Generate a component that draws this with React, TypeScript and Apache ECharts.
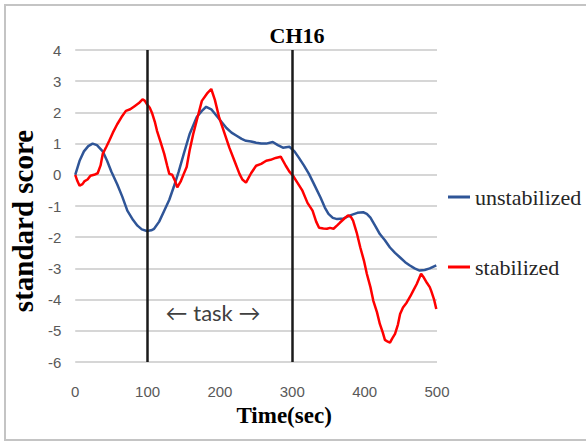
import React, { useEffect, useRef } from "react";
import * as echarts from "echarts";

const titleText = "CH16";
const xAxisName = "Time(sec)";
const yAxisName = "standard score";
const seriesNames = ["unstabilized", "stabilized"];
const markerTimes = [100, 300];
const taskLabel = "\u2190 task \u2192";

const unstabTime = [0, 6, 12, 18, 24, 30, 38, 44, 50, 58, 65, 72, 80, 86, 92, 99, 105, 109, 116, 123, 130, 136, 143, 150, 158, 168, 175, 181, 188, 195, 202, 209, 216, 223, 230, 236, 243, 250, 257, 264, 273, 280, 287, 296, 303, 309, 316, 323, 330, 339, 345, 350, 356, 362, 371, 380, 390, 398, 403, 408, 415, 421, 428, 435, 442, 449, 456, 462, 469, 476, 483, 490, 499];
const unstabValue = [0.0, 0.45, 0.75, 0.92, 1.0, 0.95, 0.75, 0.45, 0.1, -0.3, -0.7, -1.15, -1.45, -1.63, -1.75, -1.8, -1.78, -1.73, -1.5, -1.15, -0.8, -0.4, 0.1, 0.67, 1.3, 1.85, 2.05, 2.18, 2.1, 1.9, 1.7, 1.5, 1.35, 1.25, 1.15, 1.09, 1.07, 1.03, 1.0, 1.0, 1.05, 0.95, 0.87, 0.9, 0.75, 0.55, 0.3, 0.03, -0.3, -0.73, -1.05, -1.25, -1.38, -1.42, -1.4, -1.3, -1.22, -1.2, -1.25, -1.37, -1.65, -1.9, -2.1, -2.33, -2.5, -2.65, -2.8, -2.9, -3.0, -3.07, -3.05, -3.0, -2.9];

const stabTime = [0, 3, 6, 10, 13, 17, 21, 26, 31, 35, 38, 43, 47, 52, 58, 64, 70, 76, 82, 88, 93, 96, 99, 103, 106, 110, 113, 118, 123, 127, 130, 134, 138, 141, 146, 150, 154, 158, 163, 168, 175, 182, 188, 193, 199, 206, 213, 220, 227, 231, 236, 243, 250, 257, 264, 270, 277, 284, 291, 296, 301, 307, 314, 321, 328, 333, 337, 343, 348, 352, 357, 362, 366, 372, 377, 381, 384, 389, 394, 399, 403, 408, 412, 417, 421, 425, 428, 432, 435, 438, 442, 446, 449, 453, 458, 463, 467, 472, 478, 482, 486, 490, 492, 496, 499];
const stabValue = [0.0, -0.2, -0.35, -0.3, -0.2, -0.15, -0.03, 0.0, 0.05, 0.3, 0.67, 0.9, 1.09, 1.35, 1.62, 1.85, 2.05, 2.1, 2.2, 2.3, 2.42, 2.38, 2.27, 2.15, 1.99, 1.7, 1.41, 1.05, 0.67, 0.3, 0.03, 0.0, -0.2, -0.4, -0.2, 0.03, 0.25, 0.77, 1.3, 1.75, 2.37, 2.6, 2.75, 2.4, 1.83, 1.35, 0.87, 0.45, 0.03, -0.15, -0.25, 0.05, 0.29, 0.35, 0.45, 0.48, 0.54, 0.58, 0.29, 0.1, -0.03, -0.25, -0.51, -0.9, -1.15, -1.5, -1.7, -1.72, -1.73, -1.7, -1.73, -1.62, -1.53, -1.4, -1.3, -1.35, -1.47, -1.85, -2.33, -2.75, -3.17, -3.6, -4.04, -4.4, -4.78, -5.05, -5.29, -5.35, -5.38, -5.25, -5.1, -4.8, -4.46, -4.25, -4.1, -3.9, -3.72, -3.5, -3.17, -3.3, -3.46, -3.6, -3.72, -4.0, -4.3];

const pairs = (t: number[], v: number[]) => t.map((x, i) => [x, v[i]]);

export default function App() {
  const ref = useRef<HTMLDivElement>(null);
  useEffect(() => {
    if (!ref.current) return;
    const chart = echarts.init(ref.current, null, { renderer: "svg" });
    chart.setOption({
      animation: false,
      backgroundColor: "#ffffff",
      title: {
        text: titleText,
        left: 292,
        top: 19,
        textAlign: "center",
        textStyle: { fontFamily: "Liberation Serif", fontWeight: "bold", fontSize: 22, color: "#000" },
      },
      grid: { left: 72.5, right: 149, top: 50, bottom: 81, containLabel: false },
      legend: {
        orient: "vertical",
        left: 443,
        top: 181,
        itemGap: 48,
        itemWidth: 22,
        itemHeight: 3,
        itemTextGap: 3,
        icon: "rect",
        textStyle: { fontFamily: "Liberation Serif", fontSize: 22, color: "#262626" },
        data: seriesNames,
      },
      xAxis: {
        type: "value",
        min: 0,
        max: 500,
        interval: 100,
        name: xAxisName,
        nameLocation: "middle",
        nameGap: 36,
        nameTextStyle: { fontFamily: "Liberation Serif", fontWeight: "bold", fontSize: 23, color: "#000", padding: [0, 0, 0, 56] },
        axisLine: { show: false },
        axisTick: { show: false },
        splitLine: { show: false },
        axisLabel: { color: "#595959", fontSize: 15, fontFamily: "Liberation Sans", margin: 22 },
      },
      yAxis: {
        type: "value",
        min: -6,
        max: 4,
        interval: 1,
        name: yAxisName,
        nameLocation: "middle",
        nameGap: 38,
        nameTextStyle: { fontFamily: "Liberation Serif", fontWeight: "bold", fontSize: 29, color: "#000", padding: [0, 30, 0, 0] },
        axisLine: { show: false },
        axisTick: { show: false },
        splitLine: { show: true, lineStyle: { color: "#d6d6d6", width: 2 } },
        axisLabel: { color: "#595959", fontSize: 15, fontFamily: "Liberation Sans", margin: 14 },
      },
      series: [
        {
          name: seriesNames[0],
          type: "line",
          data: pairs(unstabTime, unstabValue),
          showSymbol: false,
          symbol: "none",
          lineStyle: { color: "#2f5597", width: 2.5 },
          itemStyle: { color: "#2f5597" },
          z: 3,
        },
        {
          name: seriesNames[1],
          type: "line",
          data: pairs(stabTime, stabValue),
          showSymbol: false,
          symbol: "none",
          lineStyle: { color: "#ff0000", width: 2.5 },
          itemStyle: { color: "#ff0000" },
          z: 4,
          markLine: {
            silent: true,
            symbol: "none",
            label: { show: false },
            lineStyle: { color: "#1a1a1a", width: 2.5, type: "solid" },
            data: markerTimes.map((t) => ({ xAxis: t })),
          },
        },
      ],
      graphic: [
        {
          type: "rect",
          shape: { x: 5, y: 5, width: 620, height: 435 },
          style: { fill: "none", stroke: "#c4c4c4", lineWidth: 2 },
          silent: true,
          z: -1,
        },
        {
          type: "text",
          x: 213,
          y: 312,
          style: {
            text: taskLabel,
            fontFamily: "Lato",
            fontSize: 22,
            fill: "#404040",
            align: "center",
            verticalAlign: "middle",
          },
        },
      ],
    });
    return () => chart.dispose();
  }, []);
  return <div ref={ref} style={{ position: "fixed", left: 0, top: 0, width: 586, height: 443 }} />;
}
